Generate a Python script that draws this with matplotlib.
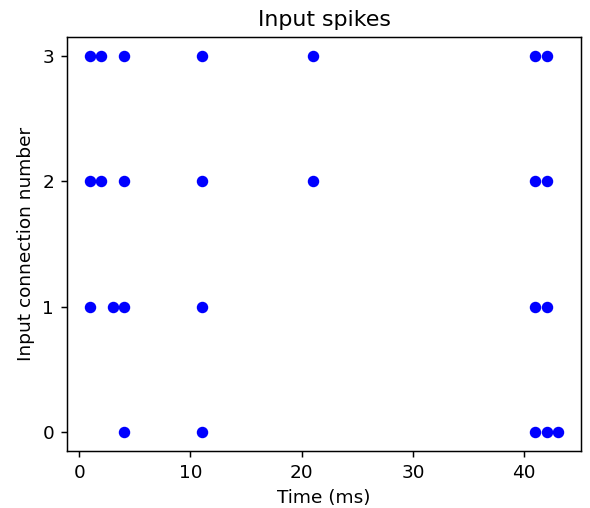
import matplotlib
matplotlib.use("Agg")
import matplotlib.pyplot as plt

# spike times (ms) per input connection
spikes_conn0 = [4, 11, 41, 42, 43]
spikes_conn1 = [1, 3, 4, 11, 41, 42]
spikes_conn2 = [1, 2, 4, 11, 21, 41, 42]
spikes_conn3 = [1, 2, 4, 11, 21, 41, 42]
connections = [0, 1, 2, 3]
all_spikes = [spikes_conn0, spikes_conn1, spikes_conn2, spikes_conn3]

DPI = 133
fig = plt.figure(figsize=(590 / DPI, 508 / DPI), dpi=DPI)
ax = fig.add_axes([67 / 590, 1 - 451 / 508, (581 - 67) / 590, (451 - 37) / 508])
for conn, times in zip(connections, all_spikes):
    ax.plot(times, [conn] * len(times), 'o', color='blue', markersize=5.2, linestyle='none')
ax.set_yticks(connections)
ax.set_xticks([0, 10, 20, 30, 40])
ax.set_title("Input spikes")
ax.set_xlabel("Time (ms)")
ax.set_ylabel("Input connection number")
fig.savefig("out.png", dpi=DPI)
